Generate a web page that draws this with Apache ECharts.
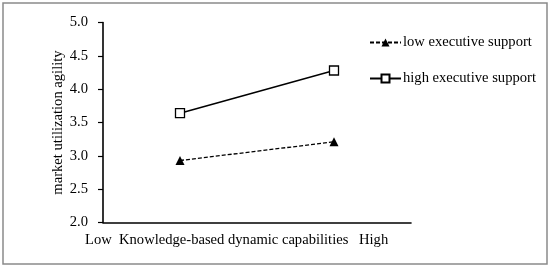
<!DOCTYPE html>
<html><head><meta charset="utf-8">
<script src="https://cdn.jsdelivr.net/npm/echarts@6/dist/echarts.min.js"></script>
<style>html,body{margin:0;padding:0;background:#fff}#c{width:550px;height:267px}</style>
</head><body><div id="c"></div>
<script>
const categories = ['Low', 'High'];
const lowSupport = [2.93, 3.21];
const highSupport = [3.64, 4.28];
const seriesNames = ['low executive support', 'high executive support'];
const yTicks = { min: 2, max: 5, interval: 0.5 };
const xTitle = ['Low', 'Knowledge-based dynamic capabilities', 'High'];
const yTitle = 'market utilization agility';

const font = 'Liberation Serif, Times New Roman, serif';
const chart = echarts.init(document.getElementById('c'));
chart.setOption({
  animation: false,
  backgroundColor: '#fff',
  textStyle: { fontFamily: font, color: '#000' },
  grid: { left: 103, right: 139, top: 22.5, bottom: 44.5 },
  legend: {
    orient: 'vertical', left: 364, top: 30, itemWidth: 31, itemHeight: 10, itemGap: 21,
    textStyle: { fontFamily: font, fontSize: 14.6, color: '#000', padding: [0, 0, 0, -3] },
    data: seriesNames
  },
  xAxis: {
    type: 'category', data: categories, boundaryGap: true,
    axisLine: { lineStyle: { color: '#000', width: 1.6 } },
    axisTick: { show: false }, axisLabel: { show: false }
  },
  yAxis: {
    type: 'value', min: yTicks.min, max: yTicks.max, interval: yTicks.interval,
    name: yTitle, nameLocation: 'middle', nameGap: 37, nameRotate: 90,
    nameMoveOverlap: false,
    nameTextStyle: { fontFamily: font, fontSize: 14.6, color: '#000' },
    axisLine: { show: true, lineStyle: { color: '#000', width: 1.6 } },
    axisTick: { show: true, length: 5, lineStyle: { color: '#000', width: 1.2 } },
    axisLabel: { color: '#000', fontFamily: font, fontSize: 14.6, margin: 15,
      formatter: v => v.toFixed(1) },
    splitLine: { show: false }
  },
  series: [
    { name: seriesNames[0], type: 'line', data: lowSupport,
      symbol: 'triangle', symbolSize: 9,
      itemStyle: { color: '#000' },
      lineStyle: { color: '#000', width: 1.3, type: [4, 2] } },
    { name: seriesNames[1], type: 'line', data: highSupport,
      symbol: 'rect', symbolSize: 9,
      itemStyle: { color: '#fff', borderColor: '#000', borderWidth: 1.3 },
      lineStyle: { color: '#000', width: 1.5 } }
  ],
  graphic: [
    { type: 'rect', shape: { x: 3, y: 3, width: 544, height: 261 },
      style: { fill: 'none', stroke: '#8a8a8a', lineWidth: 1.5 }, silent: true },
    { type: 'text', left: 85, top: 233, style: { text: xTitle[0], font: '14.6px ' + font, fill: '#000' } },
    { type: 'text', left: 119, top: 233, style: { text: xTitle[1], font: '14.6px ' + font, fill: '#000' } },
    { type: 'text', left: 359, top: 233, style: { text: xTitle[2], font: '14.6px ' + font, fill: '#000' } }
  ]
});
</script></body></html>
